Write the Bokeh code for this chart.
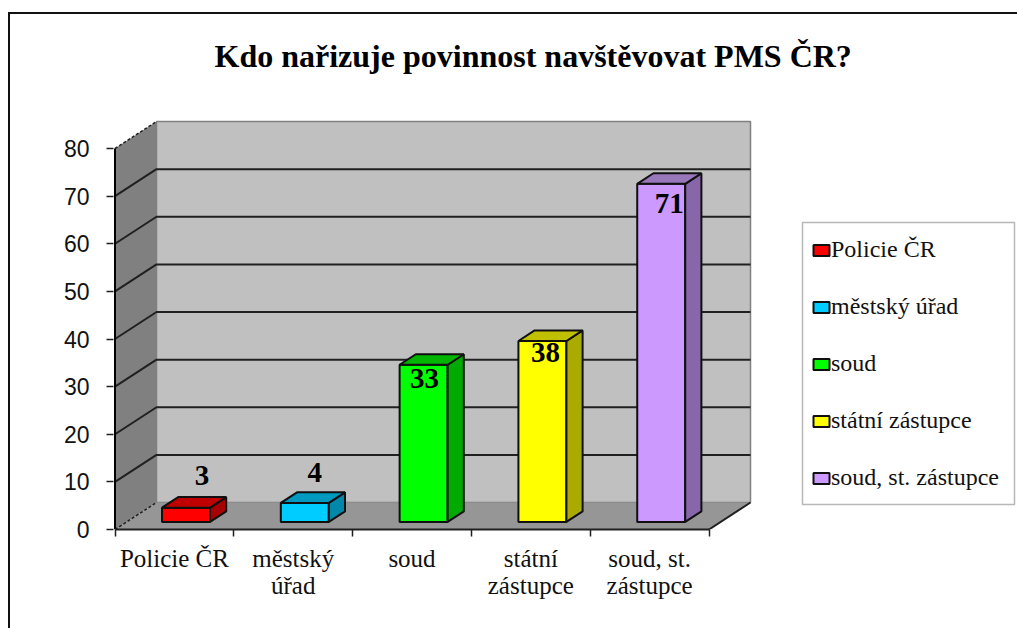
from bokeh.plotting import figure
from bokeh.embed import file_html
from bokeh.resources import INLINE
from bokeh.core.properties import value
from bokeh.models import Range1d, FixedTicker, LinearAxis, Legend, LegendItem, BoxAnnotation

# ---- data ----
TITLE = "Kdo nařizuje povinnost navštěvovat PMS ČR?"
CATEGORIES = ["Policie ČR", "městský úřad", "soud", "státní zástupce", "soud, st. zástupce"]
AXIS_LABELS = ["Policie ČR", "městský\núřad", "soud", "státní\nzástupce", "soud, st.\nzástupce"]
VALUES = [3, 4, 33, 38, 71]
Y_TICKS = [0, 10, 20, 30, 40, 50, 60, 70, 80]

# ---- style ----
FRONT = ["#FF0000", "#00CCFF", "#00FF00", "#FFFF00", "#CC99FF"]
SIDE = ["#A80000", "#0088AA", "#00AA00", "#AAAA00", "#8866AA"]
TOP = ["#C00000", "#0099C0", "#00B400", "#C0C000", "#9977BB"]
LABEL_DX = [16, 10, 1, 3, 8]
LABEL_DY = [-32, -30, 14, 12, 20]
SERIF = "Liberation Serif"

PX_X, PX_Y = 118.8, 4.7625       # pixels per category / per value unit
DEPTH_X, DEPTH_Y = 41.5 / PX_X, 27 / PX_Y
BAR_W, D0, D1 = 48 / PX_X, 0.28, 0.67

W, H = 1017, 628
LEFT, TOP_B, BOTTOM = 113, 100, 99
frame_w, frame_h = W - LEFT, H - TOP_B - BOTTOM
X0 = -1.5 / PX_X


def pr(x, v, d):
    return x + DEPTH_X * d, v + DEPTH_Y * d


p = figure(width=W, height=H, output_backend="svg", toolbar_location=None,
           x_range=Range1d(X0, X0 + frame_w / PX_X),
           y_range=Range1d(0, frame_h / PX_Y),
           x_axis_type=None, y_axis_type=None,
           min_border_left=LEFT, min_border_right=0, min_border_top=TOP_B, min_border_bottom=BOTTOM,
           background_fill_color=None, border_fill_color=None, outline_line_color=None)
p.grid.visible = False
# the slide's dark frame (top and left edges) sits behind the transparent canvas
p.styles = {"background": "linear-gradient(#111,#111) 8px 12px / 1009px 2px no-repeat, "
                          "linear-gradient(#111,#111) 8px 12px / 2px 616px no-repeat, white"}

p.title.text = TITLE
p.title.text_font = SERIF
p.title.text_font_size = "32px"
p.title.text_font_style = "bold"
p.title.text_color = "black"
p.title.align = "left"
p.title.offset = 101
p.title.standoff = 54

xs, ys = zip(*[pr(0, 0, 1), pr(5, 0, 1), pr(5, 80, 1), pr(0, 80, 1)])
p.patch(xs, ys, fill_color="#C0C0C0", line_color="#808080", line_width=1.5)
xs, ys = zip(*[pr(0, 0, 0), pr(0, 0, 1), pr(0, 80, 1), pr(0, 80, 0)])
p.patch(xs, ys, fill_color="#808080", line_color=None)
xs, ys = zip(*[pr(0, 0, 0), pr(5, 0, 0), pr(5, 0, 1), pr(0, 0, 1)])
p.patch(xs, ys, fill_color="#969696", line_color=None)

for t in Y_TICKS[1:-1]:
    a, b, c = pr(0, t, 0), pr(0, t, 1), pr(5, t, 1)
    p.line([a[0], b[0], c[0]], [a[1], b[1], c[1]], line_color="#202020", line_width=2)
for t in (Y_TICKS[0], Y_TICKS[-1]):
    a, b = pr(0, t, 0), pr(0, t, 1)
    p.line([a[0], b[0]], [a[1], b[1]], line_color="#202020", line_width=1.5, line_dash="3 2")
a, b = pr(5, 0, 0), pr(5, 0, 1)
p.line([a[0], b[0]], [a[1], b[1]], line_color="#202020", line_width=2)
a, b = pr(0, 80, 0), pr(0, 0, 0)
p.line([a[0], b[0]], [a[1], b[1]], line_color="black", line_width=2)

items = []
for i, v in enumerate(VALUES):
    c = i + 0.5
    x0, x1 = c - BAR_W / 2, c + BAR_W / 2
    ox0, oy0 = pr(x0, 0, D0)
    ox1, oy1 = pr(x1, v, D0)
    r = p.quad(left=[ox0], right=[ox1], bottom=[oy0], top=[oy1], fill_color=FRONT[i],
               line_color="#101010", line_width=2)
    pts = [pr(x1, 0, D0), pr(x1, 0, D1), pr(x1, v, D1), pr(x1, v, D0)]
    xs, ys = zip(*pts)
    p.patch(xs, ys, fill_color=SIDE[i], line_color="#101010", line_width=2)
    pts = [pr(x0, v, D0), pr(x1, v, D0), pr(x1, v, D1), pr(x0, v, D1)]
    xs, ys = zip(*pts)
    p.patch(xs, ys, fill_color=TOP[i], line_color="#101010", line_width=2)
    items.append(LegendItem(label=CATEGORIES[i], renderers=[r]))
    p.text(x=[ox0 + BAR_W / 2], y=[oy1], text=[str(v)], x_offset=[LABEL_DX[i]], y_offset=[LABEL_DY[i]],
           text_font=value(SERIF), text_font_style="bold", text_font_size="29px", text_color="black",
           text_align="center", text_baseline="middle")

y_axis = LinearAxis(ticker=FixedTicker(ticks=Y_TICKS), bounds=(0, 80))
y_axis.axis_line_color = None
y_axis.major_tick_line_color = "#202020"
y_axis.major_tick_line_width = 1.5
y_axis.major_tick_in = 0
y_axis.major_tick_out = 7
y_axis.minor_tick_line_color = None
y_axis.major_label_standoff = 17
y_axis.major_label_text_font = "Liberation Sans"
y_axis.major_label_text_font_size = "23px"
y_axis.major_label_text_color = "#111111"
p.add_layout(y_axis, "left")

centres = [i + 0.5 for i in range(len(AXIS_LABELS))]
x_axis = LinearAxis(ticker=FixedTicker(ticks=centres, minor_ticks=list(range(len(AXIS_LABELS) + 1))), bounds=(0, 5))
x_axis.major_label_overrides = {c: l for c, l in zip(centres, AXIS_LABELS)}
x_axis.axis_line_color = "#202020"
x_axis.axis_line_width = 2
x_axis.major_tick_line_color = None
x_axis.minor_tick_line_color = "#202020"
x_axis.minor_tick_line_width = 1.5
x_axis.minor_tick_in = 0
x_axis.minor_tick_out = 7
x_axis.major_label_standoff = 8
x_axis.major_label_text_font = SERIF
x_axis.major_label_text_font_size = "25px"
x_axis.major_label_text_line_height = 1.0
x_axis.major_label_text_color = "#111111"
p.add_layout(x_axis, "below")

# legend box
p.add_layout(BoxAnnotation(left=802, right=1014, top=222, bottom=504,
                           left_units="canvas", right_units="canvas", top_units="canvas", bottom_units="canvas",
                           fill_color="white", fill_alpha=1, line_color="#111111", line_width=1.5))

legend = Legend(items=items, location=(698, 38), padding=0, margin=0, spacing=30,
                glyph_width=20, glyph_height=14, label_height=14, label_standoff=0,
                border_line_color=None, background_fill_alpha=0,
                label_text_font=SERIF, label_text_font_size="24px", label_text_color="#111111")
p.add_layout(legend, "center")

open("out.html", "w").write(file_html(p, INLINE))
